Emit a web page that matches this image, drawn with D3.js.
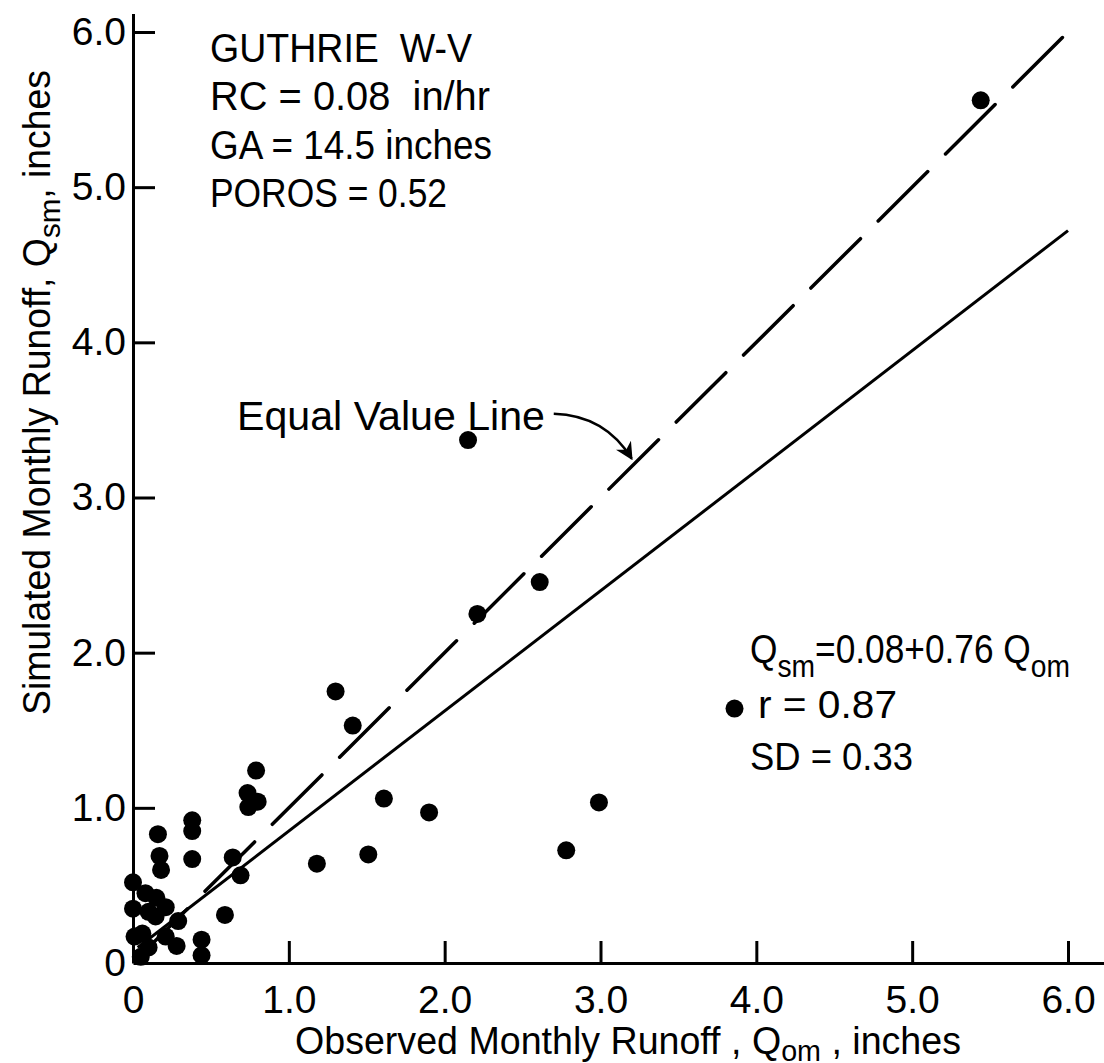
<!DOCTYPE html>
<html>
<head>
<meta charset="utf-8">
<script src="https://cdn.jsdelivr.net/npm/d3@7"></script>
<style>
  body { margin: 0; background: #fff; }
  svg { display: block; }
  text { font-family: "Liberation Sans", Arial, sans-serif; fill: #000; white-space: pre; }
</style>
</head>
<body>
<div id="chart"></div>
<script>
// observed (x) and simulated (y) monthly runoff, inches
var observed = [0.00, 0.00, 0.01, 0.05, 0.06, 0.08, 0.10, 0.10, 0.145, 0.15, 0.16, 0.17, 0.18,
    0.21, 0.21, 0.28, 0.29, 0.38, 0.38, 0.38, 0.44, 0.44, 0.59, 0.64, 0.69, 0.735, 0.74,
    0.79, 0.80, 1.18, 1.30, 1.41, 1.51, 1.61, 1.90, 2.15, 2.21, 2.61, 2.78, 2.99, 3.86, 5.44];
var simulated = [0.52, 0.35, 0.17, 0.04, 0.19, 0.45, 0.33, 0.10, 0.30, 0.42, 0.83, 0.69, 0.60,
    0.36, 0.17, 0.11, 0.27, 0.92, 0.85, 0.67, 0.15, 0.05, 0.31, 0.68, 0.565, 1.095, 1.005,
    1.24, 1.04, 0.64, 1.75, 1.53, 0.70, 1.06, 0.97, 3.37, 2.25, 2.455, 0.726, 1.035, 1.64, 5.56];

var tickValues = [0, 1, 2, 3, 4, 5, 6];
var tickLabels = ["0", "1.0", "2.0", "3.0", "4.0", "5.0", "6.0"];

// lines: regression (as drawn) and equal value line
var fitX = [0.03, 6.0];
var fitY = [0.10, 4.72];
var equalX = [0.03, 5.97];
var equalY = [0.03, 5.97];

var infoLines = ["GUTHRIE  W-V", "RC = 0.08  in/hr", "GA = 14.5 inches", "POROS = 0.52"];

var width = 1104, height = 1063;

var svg = d3.select("#chart").append("svg")
    .attr("width", width)
    .attr("height", height);

svg.append("rect").attr("width", width).attr("height", height).attr("fill", "#fff");

var x = d3.scaleLinear().domain([0, 6]).range([133, 1068]);
var y = d3.scaleLinear().domain([0, 6]).range([963, 32]);

// axes (lines run a bit past the last tick like in the original)
var xAx = x.copy().domain([0, 6.23]).range([x(0), x(6.23)]);
var yAx = y.copy().domain([0, 6.12]).range([y(0), y(6.12)]);

var fmt = function (d) { return tickLabels[tickValues.indexOf(d)]; };

var gx = svg.append("g")
    .attr("transform", "translate(0," + y(0) + ")")
    .call(d3.axisBottom(xAx).tickValues(tickValues).tickFormat(fmt)
        .tickSizeInner(-22).tickSizeOuter(0).tickPadding(22));
var gy = svg.append("g")
    .attr("transform", "translate(" + x(0) + ",0)")
    .call(d3.axisLeft(yAx).tickValues(tickValues).tickFormat(fmt)
        .tickSizeInner(-22).tickSizeOuter(0).tickPadding(7));

[gx, gy].forEach(function (g) {
    g.select(".domain").attr("stroke", "#000").attr("stroke-width", 3);
    g.selectAll(".tick line").attr("stroke", "#000").attr("stroke-width", 3);
    g.selectAll(".tick text")
        .style("font-family", "'Liberation Sans', Arial, sans-serif")
        .attr("font-size", 39).attr("fill", "#000");
});
gx.selectAll(".tick").filter(function (d) { return d === 0; }).select("line").remove();
gy.selectAll(".tick").filter(function (d) { return d === 0; }).select("line").remove();

// regression line
var line = d3.line().x(function (d) { return x(d[0]); }).y(function (d) { return y(d[1]); });
svg.append("path")
    .datum(d3.zip(fitX, fitY))
    .attr("d", line)
    .attr("fill", "none").attr("stroke", "#000").attr("stroke-width", 3);

// equal value line
svg.append("path")
    .datum(d3.zip(equalX, equalY))
    .attr("d", line)
    .attr("fill", "none").attr("stroke", "#000").attr("stroke-width", 3.5)
    .attr("stroke-dasharray", "70,25").attr("stroke-linecap", "round");

// points
svg.append("g")
    .selectAll("circle")
    .data(d3.zip(observed, simulated))
    .enter()
    .append("circle")
    .attr("cx", function (d) { return x(d[0]); })
    .attr("cy", function (d) { return y(d[1]); })
    .attr("r", 9)
    .attr("fill", "#000");

// station info
svg.append("g").selectAll("text")
    .data(infoLines)
    .enter()
    .append("text")
    .attr("x", 210)
    .attr("y", function (d, i) { return 62 + i * 48.3; })
    .attr("font-size", 40)
    .attr("textLength", function (d, i) { return [262, 280, 282, 237][i]; })
    .attr("lengthAdjust", "spacingAndGlyphs")
    .text(function (d) { return d; });

// equal value line label + arrow
svg.append("text")
    .attr("x", 237).attr("y", 430)
    .attr("font-size", 40)
    .attr("textLength", 308).attr("lengthAdjust", "spacingAndGlyphs")
    .text("Equal Value Line");

svg.append("defs").append("marker")
    .attr("id", "head")
    .attr("viewBox", "0 0 10 10")
    .attr("refX", 9).attr("refY", 5)
    .attr("markerWidth", 7).attr("markerHeight", 7)
    .attr("markerUnits", "strokeWidth")
    .attr("orient", "auto")
    .append("path").attr("d", "M0,0 L10,5 L0,10 L3,5 Z").attr("fill", "#000");

var a0 = [x(2.7), y(3.54)], ac = [x(3.03), y(3.53)], a1 = [x(3.2), y(3.25)];
svg.append("path")
    .attr("d", "M" + a0 + " Q" + ac + " " + a1)
    .attr("fill", "none").attr("stroke", "#000").attr("stroke-width", 2.5)
    .attr("marker-end", "url(#head)");

// regression stats
var eq = svg.append("text").attr("x", 750).attr("y", 663).attr("font-size", 40)
    .attr("textLength", 320).attr("lengthAdjust", "spacingAndGlyphs");
eq.append("tspan").text("Q");
eq.append("tspan").attr("font-size", 32).attr("dy", 14).text("sm");
eq.append("tspan").attr("dy", -14).text("=0.08+0.76 Q");
eq.append("tspan").attr("font-size", 32).attr("dy", 14).text("om");

svg.append("text").attr("x", 758).attr("y", 718).attr("font-size", 38)
    .attr("textLength", 139).attr("lengthAdjust", "spacingAndGlyphs")
    .text("r = 0.87");
svg.append("text").attr("x", 750).attr("y", 770).attr("font-size", 39)
    .attr("textLength", 163).attr("lengthAdjust", "spacingAndGlyphs")
    .text("SD = 0.33");

// axis titles
var xt = svg.append("text").attr("x", 295).attr("y", 1054).attr("font-size", 38)
    .attr("textLength", 666).attr("lengthAdjust", "spacingAndGlyphs");
xt.append("tspan").text("Observed Monthly Runoff , Q");
xt.append("tspan").attr("font-size", 29).attr("dy", 7).text("om");
xt.append("tspan").attr("dy", -7).text(" , inches");

var yt = svg.append("text")
    .attr("transform", "translate(50,715) rotate(-90)")
    .attr("font-size", 38)
    .attr("textLength", 645).attr("lengthAdjust", "spacingAndGlyphs");
yt.append("tspan").text("Simulated Monthly Runoff, Q");
yt.append("tspan").attr("font-size", 30).attr("dy", 10).text("sm");
yt.append("tspan").attr("dy", -10).text(", inches");
</script>
</body>
</html>
